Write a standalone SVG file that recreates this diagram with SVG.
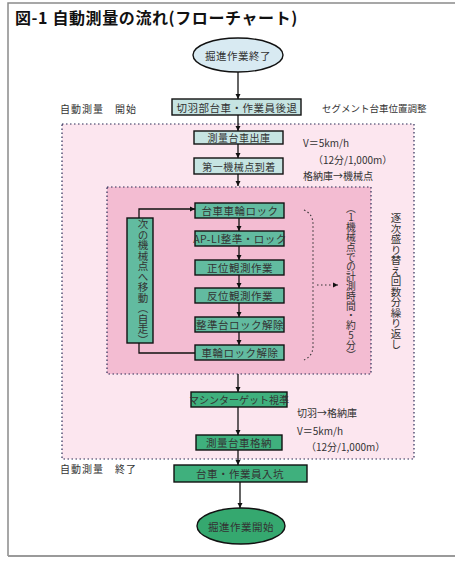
<svg xmlns="http://www.w3.org/2000/svg" width="455" height="561" viewBox="0 0 455 561">
<defs>
<marker id="ah" viewBox="0 0 10 10" refX="10" refY="5" markerWidth="5" markerHeight="6" orient="auto" markerUnits="userSpaceOnUse">
<path d="M0,0 L10,5 L0,10 z" fill="#111"/>
</marker>
<style>
text{font-family:"Noto Sans CJK JP","Noto Sans",sans-serif;fill:#333;}
.t{font-size:10.5px;text-anchor:middle;dominant-baseline:central;letter-spacing:0.5px;}
.s{font-size:10px;dominant-baseline:central;}
.v{font-size:10.5px;writing-mode:vertical-rl;text-orientation:upright;dominant-baseline:central;}
.b1{fill:#c6e4e2;stroke:#111;stroke-width:1.4;}
.b2{fill:#62bba0;stroke:#111;stroke-width:1.4;}
.b3{fill:#3fb07d;stroke:#111;stroke-width:1.4;}
.ln{fill:none;stroke:#111;stroke-width:1.3;}
.dot{stroke:#2a2a55;stroke-width:1.2;stroke-dasharray:1.5 2.5;}
</style>
</defs>
<rect width="455" height="561" fill="#fff"/>
<g id="frame">
<path d="M8,556 L8,3 L455,3" fill="none" stroke="#8a8a8a" stroke-width="1.5"/>
<path d="M8,556 L455,556" fill="none" stroke="#9a9a9a" stroke-width="2"/>
</g>
<text x="15" y="24" style="font-size:16px;font-weight:bold;fill:#111;letter-spacing:0.6px">図-1 自動測量の流れ(フローチャート)</text>

<g id="regions">
<rect class="dot" x="62" y="124" width="352" height="335" style="fill:#fce6ef"/>
<rect class="dot" x="107" y="187" width="264" height="187" style="fill:#f3bcd2"/>
</g>

<g id="labels">
<text class="s" x="60" y="108" style="letter-spacing:1px">自動測量　開始</text>
<text class="s" x="322" y="108" style="font-size:9.5px">セグメント台車位置調整</text>
<text class="s" x="303" y="142">V＝5km/h</text>
<text class="s" x="313" y="159">（12分/1,000m）</text>
<text class="s" x="303" y="175">格納庫→機械点</text>
<text class="s" x="297" y="412">切羽→格納庫</text>
<text class="s" x="297" y="430">V＝5km/h</text>
<text class="s" x="306" y="446">（12分/1,000m）</text>
<text class="s" x="60" y="468" style="letter-spacing:1px">自動測量　終了</text>
<text class="v" x="351" y="203" style="font-size:9.8px">（1機械点での計測時間・約5分）</text>
<text class="v" x="396" y="213">逐次盛り替え回数分繰り返し</text>
</g>

<g id="connectors">
<line class="ln" x1="238" y1="72" x2="238" y2="99" marker-end="url(#ah)"/>
<line class="ln" x1="238" y1="115" x2="238" y2="131" marker-end="url(#ah)"/>
<line class="ln" x1="238" y1="144" x2="238" y2="158" marker-end="url(#ah)"/>
<line class="ln" x1="238" y1="174" x2="238" y2="186" marker-end="url(#ah)"/>
<line class="ln" x1="239" y1="218" x2="239" y2="231" marker-end="url(#ah)"/>
<line class="ln" x1="239" y1="246" x2="239" y2="260" marker-end="url(#ah)"/>
<line class="ln" x1="239" y1="275" x2="239" y2="288" marker-end="url(#ah)"/>
<line class="ln" x1="239" y1="303" x2="239" y2="317" marker-end="url(#ah)"/>
<line class="ln" x1="239" y1="332" x2="239" y2="345" marker-end="url(#ah)"/>
<path class="ln" d="M139,218 L139,209 L195,209" marker-end="url(#ah)"/>
<path class="ln" d="M139,343 L139,353 L195,353"/>
<line class="ln" x1="238" y1="374" x2="238" y2="392" marker-end="url(#ah)"/>
<line class="ln" x1="238" y1="407" x2="238" y2="435" marker-end="url(#ah)"/>
<line class="ln" x1="238" y1="450" x2="238" y2="465" marker-end="url(#ah)"/>
<line class="ln" x1="240" y1="482" x2="240" y2="508" marker-end="url(#ah)"/>
<path d="M304,210 Q313,214 313,224 L313,346 Q313,356 304,360" fill="none" stroke="#333" stroke-width="1.1" stroke-dasharray="1.5 2.5"/>
<line x1="317" y1="285" x2="338" y2="285" stroke="#333" stroke-width="1.1" stroke-dasharray="1.5 2.5" marker-end="url(#ah)"/>
</g>

<g id="n_start">
<ellipse cx="238" cy="55" rx="45" ry="17" fill="#d8eaf2" stroke="#111" stroke-width="1.4"/>
<text class="t" x="238" y="55">掘進作業終了</text>
</g>
<g id="n_retreat">
<rect class="b1" x="172" y="99" width="129" height="16"/>
<text class="t" x="237" y="107">切羽部台車・作業員後退</text>
</g>
<g id="n_depart">
<rect class="b1" x="194" y="131" width="89" height="13"/>
<text class="t" x="239" y="137.5" style="font-size:10px">測量台車出庫</text>
</g>
<g id="n_arrive">
<rect class="b1" x="194" y="158" width="89" height="16"/>
<text class="t" x="239" y="166" style="font-size:10px">第一機械点到着</text>
</g>
<g id="n_lock">
<rect class="b2" x="195" y="203" width="89" height="15"/>
<text class="t" x="240" y="210.5">台車車輪ロック</text>
</g>
<g id="n_apli">
<rect class="b2" x="195" y="231" width="89" height="15"/>
<text class="t" x="240" y="238.5">AP-LI整準・ロック</text>
</g>
<g id="n_seii">
<rect class="b2" x="195" y="260" width="89" height="15"/>
<text class="t" x="240" y="267.5">正位観測作業</text>
</g>
<g id="n_hani">
<rect class="b2" x="195" y="288" width="89" height="15"/>
<text class="t" x="240" y="295.5">反位観測作業</text>
</g>
<g id="n_unlock">
<rect class="b2" x="195" y="317" width="89" height="15"/>
<text class="t" x="240" y="324.5">整準台ロック解除</text>
</g>
<g id="n_wheel">
<rect class="b2" x="195" y="345" width="89" height="15"/>
<text class="t" x="240" y="352.5">車輪ロック解除</text>
</g>
<g id="n_move">
<rect class="b2" x="127" y="218" width="26" height="125"/>
<text class="v" x="143" y="219">次の機械点へ移動（自走）</text>
</g>
<g id="n_target">
<rect class="b3" x="191" y="392" width="96" height="15"/>
<text class="t" x="239" y="399.5" style="font-size:10px;letter-spacing:0">マシンターゲット視準</text>
</g>
<g id="n_store">
<rect class="b3" x="196" y="435" width="86" height="15"/>
<text class="t" x="239" y="442.5">測量台車格納</text>
</g>
<g id="n_enter">
<rect class="b3" x="174" y="465" width="133" height="17"/>
<text class="t" x="240" y="473.5">台車・作業員入坑</text>
</g>
<g id="n_end">
<ellipse cx="241" cy="526" rx="44" ry="18" fill="#35a86f" stroke="#111" stroke-width="1.4"/>
<text class="t" x="241" y="526">掘進作業開始</text>
</g>
</svg>
